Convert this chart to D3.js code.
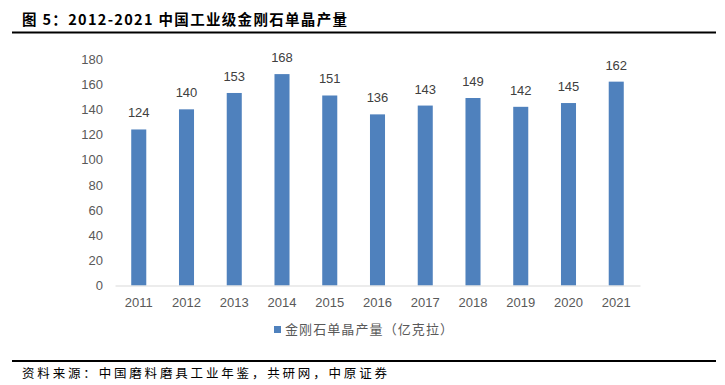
<!DOCTYPE html>
<html><head><meta charset="utf-8">
<script src="https://cdn.jsdelivr.net/npm/d3@7"></script>
<style>body{margin:0;background:#fff;}svg{display:block;}</style>
</head><body>
<svg id="c" width="725" height="385"></svg>
<script>
const years = ["2011","2012","2013","2014","2015","2016","2017","2018","2019","2020","2021"];
const output = [124,140,153,168,151,136,143,149,142,145,162];
const yTicks = [0,20,40,60,80,100,120,140,160,180];
const titleText = "图 5：2012-2021 中国工业级金刚石单晶产量";
const legendText = "金刚石单晶产量（亿克拉）";
const sourceText = "资料来源：中国磨料磨具工业年鉴，共研网，中原证券";

const svg = d3.select("#c");
const font = "'Noto Sans CJK SC', 'Liberation Sans', Arial, sans-serif";
const numFont = "'Liberation Sans', Arial, sans-serif";

// title
svg.append("text").attr("x",22).attr("y",25).attr("font-family",font)
  .attr("font-weight","bold").attr("font-size",14.5).attr("fill","#000")
  .attr("textLength",325).attr("lengthAdjust","spacing").text(titleText);
svg.append("line").attr("x1",12).attr("x2",716).attr("y1",32.5).attr("y2",32.5)
  .attr("stroke","#000").attr("stroke-width",2);

const x = d3.scaleBand().domain(years).range([115,640]).paddingInner(0.685).paddingOuter(0.34);
const y = d3.scaleLinear().domain([0,180]).range([285.5,59]);

// y axis
const ya = svg.append("g").attr("transform","translate(108,0)")
  .call(d3.axisLeft(y).tickValues(yTicks).tickSize(0).tickPadding(5));
ya.select(".domain").remove();
ya.selectAll("text").attr("font-family",numFont).attr("font-size",13).attr("fill","#595959");

// bars
svg.append("g").selectAll("rect").data(output).join("rect")
  .attr("x",(d,i)=>x(years[i])).attr("width",x.bandwidth())
  .attr("y",d=>y(d)).attr("height",d=>y(0)-y(d)).attr("fill","#4f81bd");

// baseline axis
const xa = svg.append("g").attr("transform",`translate(0,${y(0)})`)
  .call(d3.axisBottom(x).tickSize(0).tickPadding(12));
xa.select(".domain").attr("stroke","#d9d9d9").attr("stroke-width",1.2);
xa.selectAll("text").attr("font-family",numFont).attr("font-size",13).attr("fill","#595959");

// data labels
svg.append("g").selectAll("text").data(output).join("text")
  .attr("x",(d,i)=>x(years[i])+x.bandwidth()/2).attr("y",d=>y(d)-12)
  .attr("text-anchor","middle").attr("font-family",numFont).attr("font-size",13)
  .attr("fill","#404040").text(d=>d);

// legend
svg.append("rect").attr("x",274).attr("y",326).attr("width",7).attr("height",7).attr("fill","#4f81bd");
svg.append("text").attr("x",285).attr("y",334).attr("font-family",font).attr("font-size",13)
  .attr("fill","#595959").attr("textLength",168).attr("lengthAdjust","spacing").text(legendText);

// source
svg.append("line").attr("x1",12).attr("x2",716).attr("y1",361).attr("y2",361)
  .attr("stroke","#000").attr("stroke-width",2);
svg.append("text").attr("x",22).attr("y",378).attr("font-family",font).attr("font-size",12.5)
  .attr("fill","#000").attr("textLength",365).attr("lengthAdjust","spacing").text(sourceText);
</script>
</body></html>
